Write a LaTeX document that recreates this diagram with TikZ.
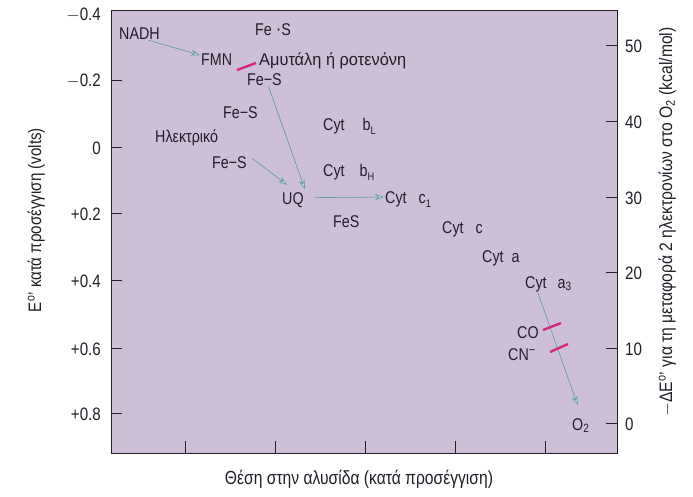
\documentclass[tikz,border=0pt]{standalone}
\usepackage{graphicx}
\usepackage{fontspec}
\setmainfont{Liberation Sans}[FakeStretch=0.84]
\usetikzlibrary{arrows.meta}
\definecolor{plotbg}{RGB}{204,191,214}
\definecolor{arrc}{RGB}{92,156,146}
\definecolor{arrfill}{RGB}{192,222,214}
\definecolor{inhib}{RGB}{214,40,122}
\definecolor{txt}{RGB}{35,30,40}
\newcommand{\sub}[1]{\raisebox{-4pt}{\fontsize{11}{12}\selectfont #1}}
\begin{document}
\begin{tikzpicture}[x=1pt,y=-1pt,
  lbl/.style={inner sep=1pt,text=txt,font=\fontsize{17}{19}\selectfont,anchor=base west},
  ticklbl/.style={inner sep=0pt,text=txt,font=\fontsize{18}{20}\selectfont},
  axlbl/.style={inner sep=0pt,text=txt,font=\fontsize{18}{20}\selectfont,anchor=base},
  arr/.style={draw=arrc,line width=0.6pt,-{Stealth[open,length=9pt,width=6pt,fill=arrfill]}},
  block/.style={draw=inhib,line width=2.4pt},
  tick/.style={draw=txt,line width=0.8pt}]
\useasboundingbox (0,0) rectangle (693,496);
\fill[white] (0,0) rectangle (693,496);
% plot area
\node[draw=txt,line width=0.8pt,fill=plotbg,minimum width=506pt,minimum height=443pt,inner sep=0pt,anchor=north west] (plot) at (111,10) {};
% left ticks
\foreach \y/\t in {80/{$-$0.2},147/0,213/+0.2,280/+0.4,348/+0.6,413/+0.8}{
  \draw[tick] (111,\y) -- (122,\y);
  \node[ticklbl,anchor=east] at (101,\y+1) {\t};
}
\node[ticklbl,anchor=east] at (101,15) {$-$0.4};
% right ticks
\foreach \y/\t in {45/50,121/40,197/30,272/20,348/10,423/0}{
  \draw[tick] (606,\y) -- (617,\y);
  \node[ticklbl,anchor=west] at (625,\y+1) {\t};
}
% bottom ticks
\foreach \x in {185,275,365,455,545}{
  \draw[tick] (\x,453) -- (\x,441);
}
% axis labels
\node[axlbl,rotate=90] (ylab) at (41,220) {\resizebox{184pt}{\height}{E\textsuperscript{o}' κατά προσέγγιση (volts)}};
\node[axlbl,rotate=90] (ylab2) at (672,222) {\resizebox{389pt}{\height}{$-$ΔE\textsuperscript{o}' για τη μεταφορά 2 ηλεκτρονίων στο O\textsubscript{2} (kcal/mol)}};
\node[axlbl,font=\fontsize{19}{21}\selectfont] (xlab) at (359,484) {\resizebox{268pt}{\height}{Θέση στην αλυσίδα (κατά προσέγγιση)}};
% labels
\node[lbl] (nadh) at (118,39) {NADH};
\node[lbl] (fes0) at (254,35) {Fe {\fontsize{20}{20}\selectfont·}S};
\node[lbl] (fmn) at (200,65) {FMN};
\node[lbl] (amyt) at (258,65) {\resizebox{147pt}{\height}{Αμυτάλη ή ροτενόνη}};
\node[lbl] (fes1) at (246,85) {Fe−S};
\node[lbl] (fes2) at (222,118) {Fe−S};
\node[lbl] (elec) at (154,142) {Ηλεκτρικό};
\node[lbl] (fes3) at (211,168) {Fe−S};
\node[lbl] (uq) at (281,204) {UQ};
\node[lbl] (cytbl) at (322,130) {Cyt\hspace{18pt}b\sub{L}};
\node[lbl] (cytbh) at (322,176) {Cyt\hspace{15pt}b\sub{H}};
\node[lbl] (cytc1) at (384,203) {Cyt\hspace{12pt}c\sub{1}};
\node[lbl] (fes) at (332,227) {FeS};
\node[lbl] (cytc) at (441,233) {Cyt\hspace{12pt}c};
\node[lbl] (cyta) at (481,262) {Cyt\hspace{8pt}a};
\node[lbl] (cyta3) at (524,288) {Cyt\hspace{11pt}a\raisebox{-2pt}{\fontsize{12}{12}\selectfont 3}};
\node[lbl] (co) at (516,338) {CO};
\node[lbl] (cn) at (507,360) {CN\raisebox{6pt}{\fontsize{13}{13}\selectfont −}};
\node[lbl] (o2) at (571,430) {O\raisebox{-2pt}{\fontsize{12}{12}\selectfont 2}};
% connectors
\draw[arr] ([xshift=9pt]nadh.south) -- ([yshift=4pt]fmn.west);
\draw[arr] ([xshift=4pt]fes1.south) -- ([yshift=2pt]uq.north east);
\draw[arr] ([xshift=4pt,yshift=4pt]fes3.east) -- ([xshift=6pt,yshift=6pt]uq.north west);
\draw[arr,shorten <=10pt] ([yshift=2pt]uq.east) -- ([yshift=2pt]cytc1.west);
\draw[arr] ([xshift=-11pt,yshift=2pt]cyta3.south) -- ([xshift=-3pt,yshift=12pt]o2.north);
% inhibition bars
\draw[block] (237,70) -- (256,63);
\draw[block] (543,330) -- (561,323);
\draw[block] (550,352) -- (568,344);
\end{tikzpicture}
\end{document}
